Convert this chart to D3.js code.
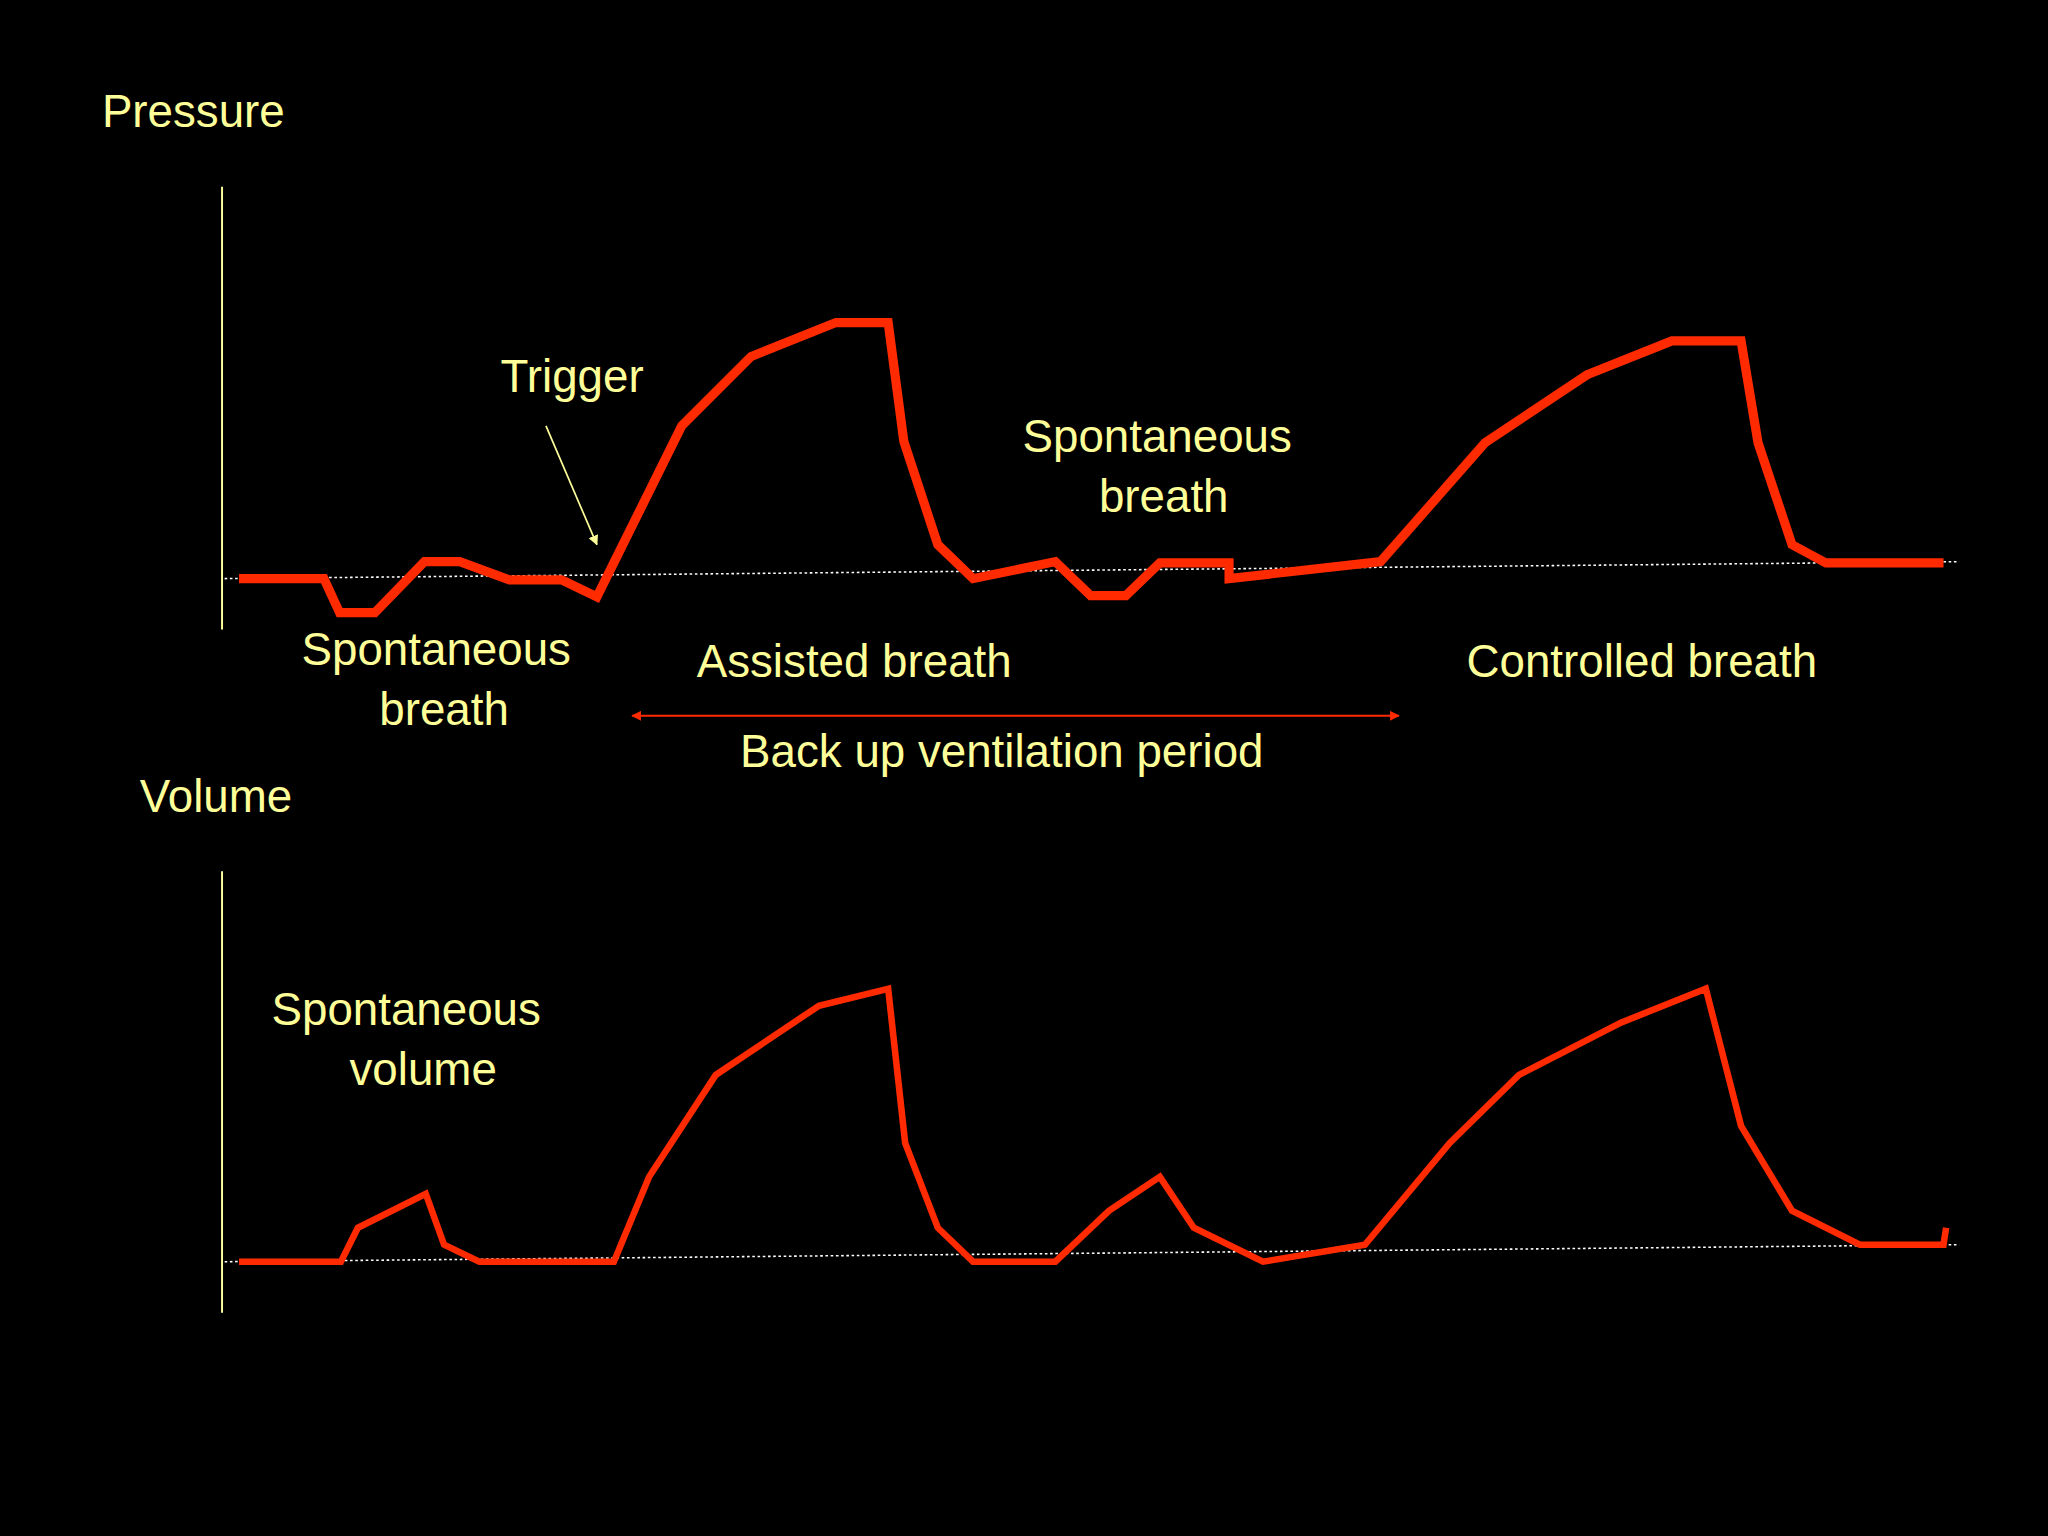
<!DOCTYPE html>
<html><head><meta charset="utf-8">
<script src="https://cdn.jsdelivr.net/npm/d3@7"></script>
<style>html,body{margin:0;background:#000;}svg{display:block}</style>
</head><body>
<script>
// time (arbitrary units) and values
const pressureT = [0,65,77,104,142,169,207,247,274,339,392,457,497,509,535,562,625,652,679,705,758,758,874,954,1032,1097,1150,1163,1189,1215,1305];
const pressureV = [0,0,-26,-26,13,13,-1,-1,-14,117,170,196,196,105,26,0,13,-13,-13,12,12,0,13,104,156,182,182,104,26,12,12];
const volumeT = [0,78,91,143,157,184,287,314,365,444,497,510,535,562,625,666,705,731,784,862,927,980,1058,1123,1150,1189,1241,1305,1307];
const volumeV = [0,0,26,52,13,0,0,65,143,196,209,91,26,0,0,39,65,26,0,13,91,143,183,209,104,39,13,13,26];
const labels = [
  {t:"Pressure",x:78,y:97,a:"start"},
  {t:"Trigger",x:438,y:300,a:"middle"},
  {t:"Spontaneous",x:886,y:346,a:"middle"},{t:"breath",x:891,y:392,a:"middle"},
  {t:"Spontaneous",x:334,y:509,a:"middle"},{t:"breath",x:340,y:555,a:"middle"},
  {t:"Assisted breath",x:654,y:518,a:"middle"},
  {t:"Controlled breath",x:1257,y:518,a:"middle"},
  {t:"Back up ventilation period",x:767,y:587,a:"middle"},
  {t:"Volume",x:107,y:622,a:"start"},
  {t:"Spontaneous",x:311,y:785,a:"middle"},{t:"volume",x:324,y:831,a:"middle"}
];

const svg = d3.select("body").append("svg").attr("width",2048).attr("height",1536)
  .attr("viewBox","0 0 1568 1176");
svg.append("rect").attr("width",1568).attr("height",1176).attr("fill","#000");
const x = d3.scaleLinear().domain([0,1305]).range([183,1488]);
const yP = d3.scaleLinear().domain([0,196]).range([443,247]);
const yV = d3.scaleLinear().domain([0,209]).range([966,757]);
const yellow = "#ffff99", red = "#ff2a00";

// axes
svg.append("line").attr("x1",170).attr("x2",170).attr("y1",143).attr("y2",482).attr("stroke",yellow).attr("stroke-width",1.5);
svg.append("line").attr("x1",170).attr("x2",170).attr("y1",667).attr("y2",1005).attr("stroke",yellow).attr("stroke-width",1.5);
// dotted baselines
svg.append("line").attr("x1",172).attr("x2",1500).attr("y1",443).attr("y2",430).attr("stroke","#fff").attr("stroke-width",1.2).attr("stroke-dasharray","2,2");
svg.append("line").attr("x1",172).attr("x2",1500).attr("y1",966).attr("y2",953).attr("stroke","#fff").attr("stroke-width",1.2).attr("stroke-dasharray","2,2");

const lp = d3.line().x((d,i)=>x(pressureT[i])).y(d=>yP(d));
svg.append("path").attr("d",lp(pressureV)).attr("fill","none").attr("stroke",red).attr("stroke-width",7).attr("stroke-linejoin","miter");
const lv = d3.line().x((d,i)=>x(volumeT[i])).y(d=>yV(d));
svg.append("path").attr("d",lv(volumeV)).attr("fill","none").attr("stroke",red).attr("stroke-width",5);

// trigger arrow
const defs = svg.append("defs");
defs.append("marker").attr("id","ay").attr("viewBox","0 0 10 10").attr("refX",9).attr("refY",5).attr("markerWidth",6).attr("markerHeight",6).attr("orient","auto")
  .append("path").attr("d","M0,0L10,5L0,10z").attr("fill",yellow);
defs.append("marker").attr("id","ar").attr("viewBox","0 0 10 10").attr("refX",9).attr("refY",5).attr("markerWidth",5).attr("markerHeight",5).attr("orient","auto-start-reverse")
  .append("path").attr("d","M0,0L10,5L0,10z").attr("fill",red);
svg.append("line").attr("x1",418).attr("y1",326).attr("x2",457).attr("y2",417).attr("stroke",yellow).attr("stroke-width",1.3).attr("marker-end","url(#ay)");
svg.append("line").attr("x1",484).attr("y1",548).attr("x2",1071).attr("y2",548).attr("stroke",red).attr("stroke-width",1.5)
  .attr("marker-start","url(#ar)").attr("marker-end","url(#ar)");

svg.selectAll("text.l").data(labels).join("text").attr("class","l")
  .attr("x",d=>d.x).attr("y",d=>d.y).attr("text-anchor",d=>d.a)
  .attr("fill",yellow).attr("font-family","Liberation Sans, Arial, sans-serif").attr("font-size",35)
  .text(d=>d.t);
</script>
</body></html>
